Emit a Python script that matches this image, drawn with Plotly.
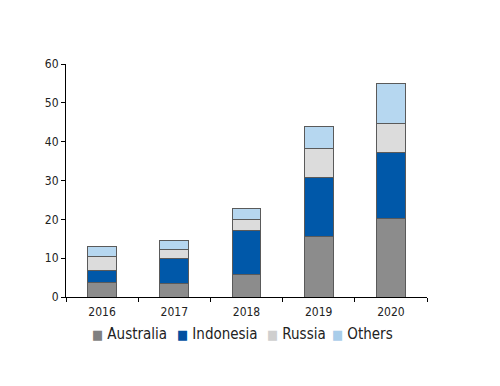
import plotly.graph_objects as go

years = ["2016", "2017", "2018", "2019", "2020"]
australia = [3.8, 3.6, 5.9, 15.5, 20.2]
indonesia = [2.9, 6.2, 11.3, 15.4, 16.9]
russia = [3.8, 2.4, 2.7, 7.3, 7.7]
others = [2.6, 2.4, 2.9, 5.6, 10.1]

series = [
    ("Australia", australia, "#8c8c8c"),
    ("Indonesia", indonesia, "#0058a9"),
    ("Russia", russia, "#dcdcdc"),
    ("Others", others, "#b6d7f0"),
]
# left edge of each legend entry's square marker (page px)
legend_mark_x = [92, 177, 267, 332]
legend_mark_col = ["#808080", "#0050a0", "#cfcfcf", "#a9cdea"]

W, H = 500, 386
fig = go.Figure()
legend_layout = {}
for i, (name, vals, col) in enumerate(series):
    lname = "legend" if i == 0 else f"legend{i+1}"
    fig.add_trace(go.Bar(
        x=years, y=vals, name=name, showlegend=False,
        marker=dict(color=col, line=dict(color="#5a5a5a", width=1)),
        width=0.4,
    ))
    # legend entry: colour square glyph + label (symbol line hidden)
    fig.add_trace(go.Scatter(
        x=[None], y=[None], mode="lines", legend=lname, showlegend=True,
        line=dict(width=0, color="rgba(0,0,0,0)"),
        name=f"<span style='color:{legend_mark_col[i]};font-size:13px'>■</span> {name}",
        hoverinfo="skip",
    ))
    legend_layout[lname] = dict(
        orientation="h", xref="container", yref="container",
        x=(legend_mark_x[i] - 8 - 40) / W, xanchor="left",
        y=0.158, yanchor="middle", bgcolor="rgba(0,0,0,0)",
        font=dict(size=15, family="DejaVu Sans Condensed, DejaVu Sans", color="#222"),
        itemwidth=30,
    )

fig.update_layout(
    barmode="stack",
    width=W, height=H,
    margin=dict(l=58, r=81, t=56, b=97, autoexpand=False),
    paper_bgcolor="white", plot_bgcolor="white",
    font=dict(family="DejaVu Sans Condensed, DejaVu Sans", size=12, color="#222"),
    showlegend=True,
    xaxis=dict(type="category", showline=True, linecolor="#000", linewidth=1,
               ticks="outside", ticklen=4, tickcolor="#000", tickson="boundaries",
               showgrid=False, automargin=False, ticklabelstandoff=4),
    yaxis=dict(range=[0, 60], dtick=10, showline=True, linecolor="#000", linewidth=1,
               ticks="outside", ticklen=4, tickcolor="#000", showgrid=False,
               zeroline=False, automargin=False),
    **legend_layout,
)

fig.write_html("out.html")
